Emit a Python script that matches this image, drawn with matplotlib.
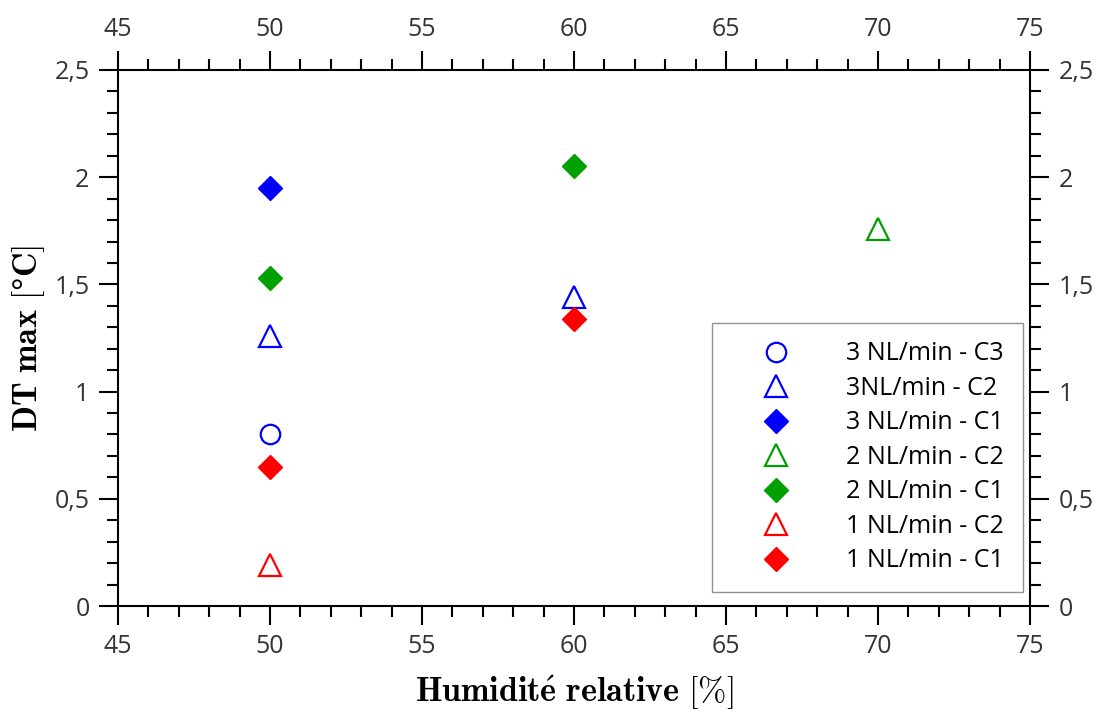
import matplotlib
matplotlib.use("Agg")
import matplotlib.pyplot as plt
from matplotlib.ticker import MultipleLocator, FuncFormatter

# Data
hum_3c3 = [50]
dt_3c3 = [0.80]
hum_3c2 = [50, 60]
dt_3c2 = [1.26, 1.44]
hum_3c1 = [50]
dt_3c1 = [1.95]
hum_2c2 = [70]
dt_2c2 = [1.76]
hum_2c1 = [50, 60]
dt_2c1 = [1.53, 2.05]
hum_1c2 = [50]
dt_1c2 = [0.19]
hum_1c1 = [50, 60]
dt_1c1 = [0.65, 1.34]

blue = "#0000ff"
green = "#00a000"
red = "#ff0000"

plt.rcParams["font.family"] = ["Open Sans", "DejaVu Sans"]
plt.rcParams["mathtext.fontset"] = "cm"

fig = plt.figure(figsize=(10.97, 7.16), dpi=100)
ax = fig.add_axes([118 / 1097, 1 - 606 / 716, (1030 - 118) / 1097, (606 - 70) / 716])

ax.plot(hum_3c3, dt_3c3, "o", ms=14, mfc="none", mec=blue, mew=1.6, ls="none", label="3 NL/min - C3")
ax.plot(hum_3c2, dt_3c2, "^", ms=16, mfc="none", mec=blue, mew=1.6, ls="none", label="3NL/min - C2")
ax.plot(hum_3c1, dt_3c1, "D", ms=12, color=blue, ls="none", label="3 NL/min - C1")
ax.plot(hum_2c2, dt_2c2, "^", ms=16, mfc="none", mec=green, mew=1.6, ls="none", label="2 NL/min - C2")
ax.plot(hum_2c1, dt_2c1, "D", ms=12, color=green, ls="none", label="2 NL/min - C1")
ax.plot(hum_1c2, dt_1c2, "^", ms=16, mfc="none", mec=red, mew=1.6, ls="none", label="1 NL/min - C2")
ax.plot(hum_1c1, dt_1c1, "D", ms=12, color=red, ls="none", label="1 NL/min - C1")

ax.set_xlim(45, 75)
ax.set_ylim(0, 2.5)

comma = FuncFormatter(lambda v, p: ("%g" % v).replace(".", ","))
ax.xaxis.set_major_locator(MultipleLocator(5))
ax.xaxis.set_minor_locator(MultipleLocator(1))
ax.yaxis.set_major_locator(MultipleLocator(0.5))
ax.yaxis.set_minor_locator(MultipleLocator(0.1))
ax.yaxis.set_major_formatter(comma)

for sp in ax.spines.values():
    sp.set_linewidth(1.5)

ax.tick_params(which="both", direction="out", top=True, right=True,
               labeltop=True, labelright=True, width=1.5, colors="black",
               labelcolor="#333333", labelsize=18)
ax.tick_params(which="major", length=13.5, pad=7)
ax.tick_params(which="minor", length=8)

ax.set_xlabel(r"$\mathbf{Humidit\acute{e}\ relative\ [\%]}$", fontsize=24.5, labelpad=10)
ax.set_ylabel(r"$\mathbf{DT\ max\ [\degree C]}$", fontsize=24.5, labelpad=5)

leg = ax.legend(loc="lower right", bbox_to_anchor=(0.992, 0.026), frameon=True,
                fancybox=False, edgecolor="#777777", fontsize=18,
                handletextpad=1.0, borderpad=0.75, labelspacing=0.38,
                borderaxespad=0, handlelength=3.6)
leg.get_frame().set_linewidth(1.0)

fig.savefig("out.png", dpi=100)
